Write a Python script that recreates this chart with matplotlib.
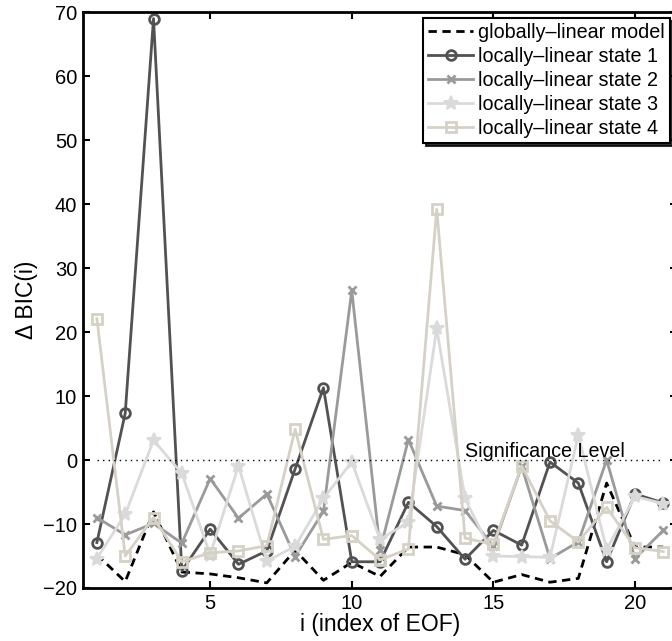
import numpy as np
import matplotlib
matplotlib.use('Agg')
import matplotlib.pyplot as plt

plt.rcParams['font.family'] = ['Liberation Sans', 'DejaVu Sans']
plt.rcParams['font.size'] = 14.5

# index of EOF
eof_idx = np.arange(1, 22)

# delta BIC values
glob_lin = [-14.8, -19.0, -8.1, -17.5, -17.8, -18.4, -19.2, -14.1, -18.8, -16.0, -18.2,
            -13.6, -13.6, -14.8, -19.1, -17.9, -19.1, -18.5, -3.6, -13.6, -13.6]
state1 = [-12.9, 7.3, 69.0, -17.3, -10.8, -16.3, -14.2, -1.4, 11.3, -15.9, -15.9,
          -6.6, -10.4, -15.5, -11.0, -13.3, -0.3, -3.6, -15.9, -5.3, -6.7]
state2 = [-9.0, -11.7, -9.9, -13.0, -2.9, -9.1, -5.3, -15.1, -8.0, 26.5, -14.0,
          3.2, -7.2, -7.9, -13.5, -1.0, -15.4, -12.8, 0.0, -15.4, -11.0]
state3 = [-15.4, -8.5, 3.1, -2.1, -14.8, -0.9, -15.8, -13.5, -6.0, -0.3, -12.4,
          -9.7, 20.6, -6.0, -15.0, -15.1, -15.2, 3.9, -14.0, -5.7, -6.8]
state4 = [22.1, -15.0, -9.0, -15.9, -14.5, -14.2, -13.4, 4.8, -12.4, -11.8, -15.6,
          -13.9, 39.2, -12.2, -13.2, -0.9, -9.5, -12.8, -7.4, -13.7, -14.3]

labels = ['globally\u2013linear model', 'locally\u2013linear state 1',
          'locally\u2013linear state 2', 'locally\u2013linear state 3',
          'locally\u2013linear state 4']

fig = plt.figure(figsize=(6.72, 6.41), dpi=100)
# axes runs slightly past the right edge of the picture (cropped original)
ax = fig.add_axes([0.1231, 0.0827, 0.885, 0.8983])

ax.plot(eof_idx, glob_lin, color='black', lw=2, linestyle=(0, (3, 2)), label=labels[0])
ax.plot(eof_idx, state1, color='#525252', lw=2, marker='o', ms=7, mfc='none', mew=2,
        label=labels[1])
ax.plot(eof_idx, state2, color='#9a9a9a', lw=2, marker='x', ms=6, mew=2, label=labels[2])
ax.plot(eof_idx, state3, color='#dadada', lw=2, marker='*', ms=10, mew=1.5, label=labels[3])
ax.plot(eof_idx, state4, color='#d5d1c6', lw=2, marker='s', ms=6.5, mfc='none', mew=2,
        label=labels[4])

ax.plot([1, 21], [0, 0], color='black', lw=1, linestyle=(0, (1, 3)))
ax.text(14.0, 0.4, 'Significance Level', va='baseline', ha='left', fontsize=14.2)

ax.set_xlim(0.5, 21.5)
ax.set_ylim(-20, 70)
ax.set_xticks([5, 10, 15, 20])
ax.set_yticks(np.arange(-20, 71, 10))
ax.tick_params(direction='in', length=5, width=1.5, top=True, right=True, pad=4)
for sp in ax.spines.values():
    sp.set_linewidth(2)

ax.set_xlabel('i (index of EOF)', fontsize=16.5, labelpad=0)
ax.set_ylabel('\u0394 BIC(i)', fontsize=16.5, labelpad=4)

leg = ax.legend(loc='upper right', bbox_to_anchor=(670 / 672, 0.972),
                bbox_transform=fig.transFigure, fancybox=False, framealpha=1,
                edgecolor='black', fontsize=14.2, borderpad=0.25, labelspacing=0.26,
                handlelength=2.3, handletextpad=0.25, borderaxespad=0,
                shadow={'color': 'black', 'alpha': 0.8})
leg.get_frame().set_linewidth(1.5)

fig.savefig('out.png', dpi=100)
